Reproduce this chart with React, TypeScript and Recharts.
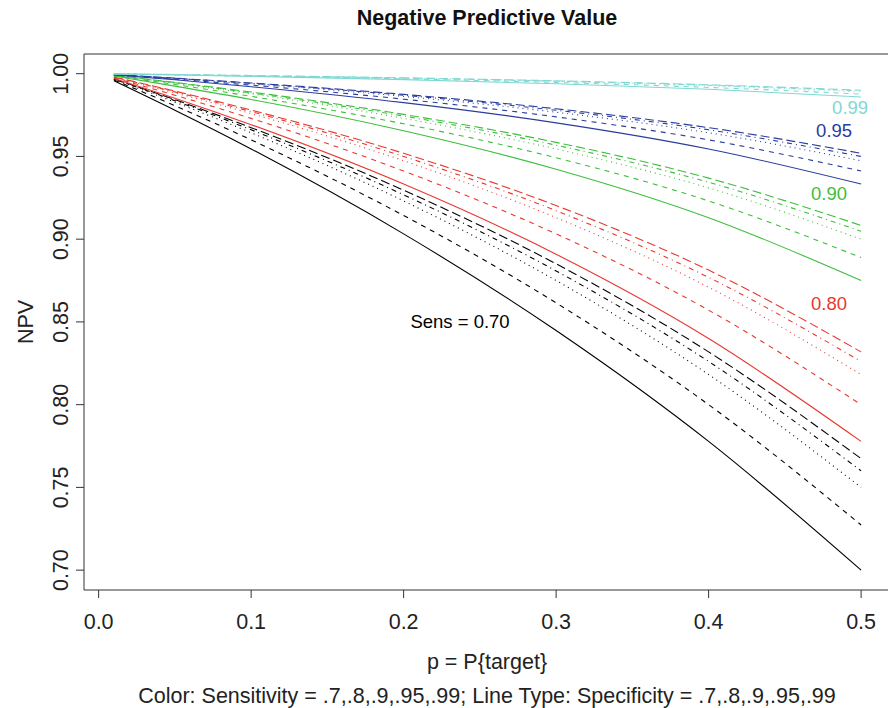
import React from 'react';
import { LineChart, Line, XAxis, YAxis, ReferenceArea, ReferenceDot } from 'recharts';

// NPV curves: one array per sensitivity, one row per specificity,
// values at the p positions below.
const pValues = [0.01, 0.05, 0.1, 0.2, 0.3, 0.4, 0.5];
const specLabels = ['0.70', '0.80', '0.90', '0.95', '0.99'];
const sensLabels = ['0.70', '0.80', '0.90', '0.95', '0.99'];

const npvSens70 = [
  [0.9957, 0.9779, 0.9545, 0.9032, 0.8448, 0.7778, 0.7],
  [0.9962, 0.9807, 0.96, 0.9143, 0.8615, 0.8, 0.7273],
  [0.9966, 0.9828, 0.9643, 0.9231, 0.875, 0.8182, 0.75],
  [0.9968, 0.9837, 0.9661, 0.9268, 0.8808, 0.8261, 0.76],
  [0.9969, 0.9843, 0.9674, 0.9296, 0.8851, 0.8319, 0.7674],
];
const npvSens80 = [
  [0.9971, 0.9852, 0.9692, 0.9333, 0.8909, 0.84, 0.7778],
  [0.9975, 0.987, 0.973, 0.9412, 0.9032, 0.8571, 0.8],
  [0.9978, 0.9884, 0.9759, 0.9474, 0.913, 0.871, 0.8182],
  [0.9979, 0.989, 0.9771, 0.95, 0.9172, 0.8769, 0.8261],
  [0.998, 0.9895, 0.978, 0.9519, 0.9203, 0.8813, 0.8319],
];
const npvSens90 = [
  [0.9986, 0.9925, 0.9844, 0.9655, 0.9423, 0.913, 0.875],
  [0.9987, 0.9935, 0.9863, 0.9697, 0.9492, 0.9231, 0.8889],
  [0.9989, 0.9942, 0.9878, 0.973, 0.9545, 0.931, 0.9],
  [0.9989, 0.9945, 0.9884, 0.9744, 0.9568, 0.9344, 0.9048],
  [0.999, 0.9947, 0.9889, 0.9754, 0.9585, 0.9369, 0.9083],
];
const npvSens95 = [
  [0.9993, 0.9963, 0.9921, 0.9825, 0.9703, 0.9545, 0.9333],
  [0.9994, 0.9967, 0.9931, 0.9846, 0.9739, 0.96, 0.9412],
  [0.9994, 0.9971, 0.9939, 0.9863, 0.9767, 0.9643, 0.9474],
  [0.9995, 0.9972, 0.9942, 0.987, 0.9779, 0.9661, 0.95],
  [0.9995, 0.9973, 0.9944, 0.9875, 0.9788, 0.9674, 0.9519],
];
const npvSens99 = [
  [0.9999, 0.9992, 0.9984, 0.9964, 0.9939, 0.9906, 0.9859],
  [0.9999, 0.9993, 0.9986, 0.9969, 0.9947, 0.9917, 0.9877],
  [0.9999, 0.9994, 0.9988, 0.9972, 0.9953, 0.9927, 0.989],
  [0.9999, 0.9995, 0.9988, 0.9974, 0.9955, 0.993, 0.9896],
  [0.9999, 0.9995, 0.9989, 0.9975, 0.9957, 0.9933, 0.99],
];

const xTicks = [0, 0.1, 0.2, 0.3, 0.4, 0.5];
const yTicks = [0.7, 0.75, 0.8, 0.85, 0.9, 0.95, 1.0];

// text annotations (data coords)
const annotations = [
  { x: 0.237, y: 0.8505, text: 'Sens = 0.70', sens: 0 },
  { x: 0.479, y: 0.8613, text: '0.80', sens: 1 },
  { x: 0.479, y: 0.9277, text: '0.90', sens: 2 },
  { x: 0.4823, y: 0.9658, text: '0.95', sens: 3 },
  { x: 0.4928, y: 0.9796, text: '0.99', sens: 4 },
];

const allSens = [npvSens70, npvSens80, npvSens90, npvSens95, npvSens99];
const colors = ['#000000', '#e8382f', '#3dbe3d', '#2a3c9e', '#7fd8d2'];
const dashes = [undefined, '5 5', '1 4', '1 4 5 4', '9 4'];

const xDomain: [number, number] = [-0.0096, 0.5196];
const yDomain: [number, number] = [0.688, 1.0119];

const data = pValues.map((p, i) => {
  const row: Record<string, number> = { p };
  allSens.forEach((rows, si) => {
    rows.forEach((vals, ki) => {
      row[`s${si}_${ki}`] = vals[i];
    });
  });
  return row;
});

const FONT = '"Liberation Sans", Arial, Helvetica, sans-serif';
const FS = 21.5;

const XTick = (props: any) => (
  <text x={props.x} y={props.y + 29} textAnchor="middle" fontSize={FS} fontFamily={FONT} fill="#222">
    {props.payload.value.toFixed(1)}
  </text>
);

const YTick = (props: any) => (
  <text
    x={props.x - 6}
    y={props.y}
    transform={`rotate(-90, ${props.x - 6}, ${props.y})`}
    textAnchor="middle"
    fontSize={FS}
    fontFamily={FONT}
    fill="#222"
  >
    {props.payload.value.toFixed(2)}
  </text>
);

export default function App() {
  return (
    <div style={{ position: 'absolute', left: 0, top: 0, width: 888, height: 708, overflow: 'hidden', background: '#fff' }}>
      <LineChart width={900} height={708} data={data} margin={{ top: 54, right: 9, left: 0, bottom: 0 }}>
        <XAxis
          dataKey="p"
          type="number"
          domain={xDomain}
          allowDataOverflow
          ticks={xTicks}
          tick={<XTick />}
          tickSize={8}
          tickLine={{ stroke: '#333' }}
          axisLine={false}
          height={118}
        />
        <YAxis
          type="number"
          domain={yDomain}
          allowDataOverflow
          ticks={yTicks}
          tick={<YTick />}
          tickSize={8}
          tickLine={{ stroke: '#333' }}
          axisLine={false}
          width={84}
        />
        <ReferenceArea
          x1={xDomain[0]}
          x2={xDomain[1]}
          y1={yDomain[0]}
          y2={yDomain[1]}
          fill="none"
          fillOpacity={0}
          stroke="#333"
          strokeWidth={1}
        />
        {allSens.map((rows, si) =>
          rows.map((_, ki) => (
            <Line
              key={`s${si}_${ki}`}
              name={`Sens ${sensLabels[si]}, Spec ${specLabels[ki]}`}
              dataKey={`s${si}_${ki}`}
              type="monotone"
              stroke={colors[si]}
              strokeWidth={1.1}
              strokeDasharray={dashes[ki]}
              dot={false}
              activeDot={false}
              isAnimationActive={false}
            />
          ))
        )}
        {annotations.map((a) => (
          <ReferenceDot
            key={a.text}
            x={a.x}
            y={a.y}
            r={0}
            shape={(props: any) => (
              <text
                x={props.cx}
                y={props.cy}
                textAnchor="middle"
                dominantBaseline="central"
                fontSize={18.5}
                fontFamily={FONT}
                fill={colors[a.sens]}
              >
                {a.text}
              </text>
            )}
          />
        ))}
        <text x={487} y={25} textAnchor="middle" fontSize={21.5} fontWeight="bold" fontFamily={FONT} fill="#111">
          Negative Predictive Value
        </text>
        <text x={487} y={669} textAnchor="middle" fontSize={FS} fontFamily={FONT} fill="#222">
          p = P{'{'}target{'}'}
        </text>
        <text x={487} y={703} textAnchor="middle" fontSize={FS} fontFamily={FONT} fill="#222">
          Color: Sensitivity = .7,.8,.9,.95,.99; Line Type: Specificity = .7,.8,.9,.95,.99
        </text>
        <text
          x={33}
          y={322}
          transform="rotate(-90, 33, 322)"
          textAnchor="middle"
          fontSize={FS}
          fontFamily={FONT}
          fill="#222"
        >
          NPV
        </text>
      </LineChart>
    </div>
  );
}
